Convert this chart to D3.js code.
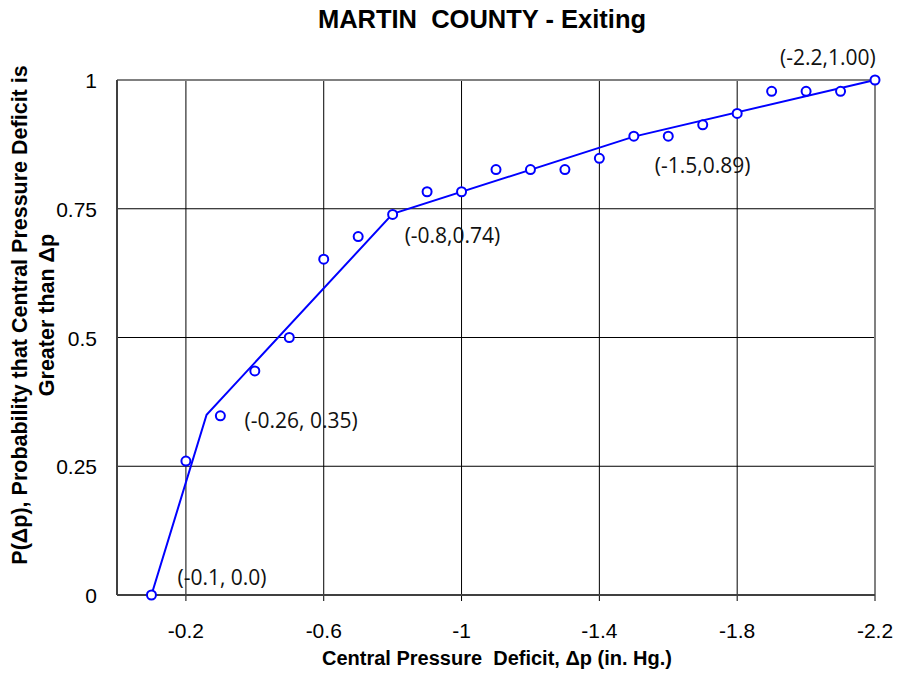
<!DOCTYPE html>
<html>
<head>
<meta charset="utf-8">
<script src="https://d3js.org/d3.v7.min.js"></script>
<style>
  body { margin: 0; background: #fff; }
  text { font-family: "Liberation Sans", Arial, sans-serif; }
  .note { font-family: "Open Sans", "Noto Sans", sans-serif; font-size: 21px; fill: #111; }
</style>
</head>
<body>
<script>
// observed points
var deficit = [-0.1, -0.2, -0.3, -0.4, -0.5, -0.6, -0.7, -0.8, -0.9, -1.0, -1.1,
               -1.2, -1.3, -1.4, -1.5, -1.6, -1.7, -1.8, -1.9, -2.0, -2.1, -2.2];
var prob = [0.0, 0.26, 0.348, 0.435, 0.5, 0.652, 0.696, 0.739, 0.783, 0.783, 0.826,
            0.826, 0.826, 0.848, 0.891, 0.891, 0.913, 0.935, 0.978, 0.978, 0.978, 1.0];
// fitted piecewise line
var fitX = [-0.1, -0.26, -0.8, -1.5, -2.2];
var fitY = [0.0, 0.35, 0.74, 0.89, 1.0];
var fitLabels = ["(-0.1, 0.0)", "(-0.26, 0.35)", "(-0.8,0.74)", "(-1.5,0.89)", "(-2.2,1.00)"];
var xTicks = [-0.2, -0.6, -1, -1.4, -1.8, -2.2];
var yTicks = [0, 0.25, 0.5, 0.75, 1];

var W = 899, H = 673;
var margin = {top: 80, right: 24, bottom: 78, left: 117};
var width = W - margin.left - margin.right,
    height = H - margin.top - margin.bottom;

var svg = d3.select("body").append("svg")
    .attr("width", W).attr("height", H);
var g = svg.append("g")
    .attr("transform", "translate(" + margin.left + "," + margin.top + ")");

var x = d3.scaleLinear().domain([0, -2.2]).range([0, width]);
var y = d3.scaleLinear().domain([0, 1]).range([height, 0]);

// vertical grid + ticks below axis
g.selectAll(".vgrid").data(xTicks.slice(0, -1)).enter().append("line")
    .attr("x1", d => x(d)).attr("x2", d => x(d))
    .attr("y1", 0).attr("y2", height + 6)
    .attr("stroke", "#000").attr("stroke-width", 1);
g.append("line")
    .attr("x1", x(-2.2)).attr("x2", x(-2.2))
    .attr("y1", height).attr("y2", height + 6)
    .attr("stroke", "#000");

// horizontal grid
g.selectAll(".hgrid").data(yTicks.slice(1, -1)).enter().append("line")
    .attr("x1", 0).attr("x2", width)
    .attr("y1", d => y(d)).attr("y2", d => y(d))
    .attr("stroke", "#000").attr("stroke-width", 1);

// plot frame: grey top/right, dark left/bottom
g.append("line").attr("x1", 0).attr("x2", width).attr("y1", 0).attr("y2", 0)
    .attr("stroke", "#808080").attr("stroke-width", 2);
g.append("line").attr("x1", width).attr("x2", width).attr("y1", 0).attr("y2", height)
    .attr("stroke", "#808080").attr("stroke-width", 2);
g.append("line").attr("x1", 0).attr("x2", 0).attr("y1", 0).attr("y2", height)
    .attr("stroke", "#404040").attr("stroke-width", 2);
g.append("line").attr("x1", 0).attr("x2", width).attr("y1", height).attr("y2", height)
    .attr("stroke", "#404040").attr("stroke-width", 2);

// tick labels
g.selectAll(".xl").data(xTicks).enter().append("text")
    .attr("x", d => x(d)).attr("y", height + 43)
    .attr("text-anchor", "middle").style("font-size", "21px")
    .text(d => String(d));
g.selectAll(".yl").data(yTicks).enter().append("text")
    .attr("x", -20).attr("y", d => y(d) + 8)
    .attr("text-anchor", "end").style("font-size", "21px")
    .text(d => d);

// fitted line
var line = d3.line().x(d => x(d[0])).y(d => y(d[1]));
g.append("path")
    .datum(d3.zip(fitX, fitY))
    .attr("d", line)
    .attr("fill", "none").attr("stroke", "#0000ff").attr("stroke-width", 2);

// points
g.selectAll(".pt").data(d3.zip(deficit, prob)).enter().append("circle")
    .attr("cx", d => x(d[0])).attr("cy", d => y(d[1])).attr("r", 4.5)
    .attr("fill", "#fff").attr("stroke", "#0000ff").attr("stroke-width", 2);

// annotations
var noteOff = [[26, -10], [38, 13], [12, 29], [21, 36], [-95, -15]];
g.selectAll(".note").data(d3.range(fitX.length)).enter().append("text")
    .attr("class", "note")
    .attr("x", i => x(fitX[i]) + noteOff[i][0])
    .attr("y", i => y(fitY[i]) + noteOff[i][1])
    .text(i => fitLabels[i]);

// titles
svg.append("text")
    .attr("x", 482).attr("y", 28)
    .attr("text-anchor", "middle")
    .style("font-size", "25.5px").style("font-weight", "bold")
    .style("white-space", "pre")
    .text("MARTIN  COUNTY - Exiting");

svg.append("text")
    .attr("x", 497).attr("y", 665)
    .attr("text-anchor", "middle")
    .style("font-size", "20px").style("font-weight", "bold")
    .style("white-space", "pre")
    .text("Central Pressure  Deficit, \u0394p (in. Hg.)");

var yt = svg.append("text")
    .attr("transform", "translate(27,315) rotate(-90)")
    .attr("text-anchor", "middle")
    .style("font-size", "21.5px").style("font-weight", "bold");
yt.append("tspan").attr("x", 0).attr("dy", 0)
    .text("P(\u0394p), Probability that Central Pressure Deficit is");
yt.append("tspan").attr("x", 0).attr("dy", 27)
    .text("Greater than \u0394p");
</script>
</body>
</html>
